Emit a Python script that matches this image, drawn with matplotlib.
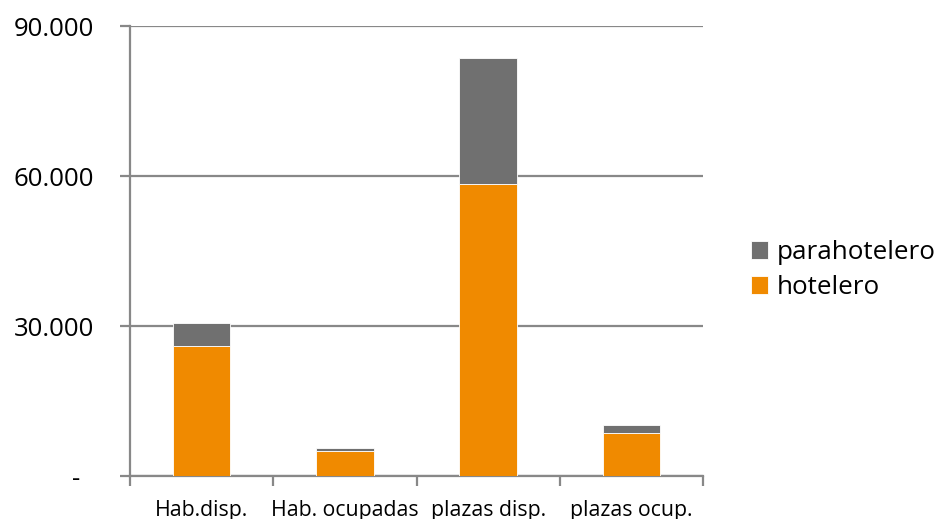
import matplotlib.pyplot as plt
from matplotlib.ticker import FuncFormatter
import numpy as np

categories = ['Hab.disp.', 'Hab. ocupadas', 'plazas disp.', 'plazas ocup.']
hotelero = [26100, 5000, 58400, 8600]
parahotelero = [4600, 600, 25300, 1600]
y_ticks = [0, 30000, 60000, 90000]

ORANGE = '#f08a00'
GREY = '#707070'
AXIS = '#888888'

plt.rcParams['font.family'] = ['Open Sans', 'DejaVu Sans']


def fmt_thousands(v, pos):
    if v == 0:
        return '-  '  # accounting style dash sits left of the digits
    return f'{int(v):,}'.replace(',', '.')


def main():
    fig = plt.figure(figsize=(9.4, 5.19), dpi=100)
    ax = fig.add_axes([130 / 940, 1 - 476 / 519, 573 / 940, 450 / 519])

    x = np.arange(len(categories))
    ax.bar(x, hotelero, width=0.4, color=ORANGE, edgecolor='white',
           linewidth=0.6, label='hotelero', zorder=3)
    ax.bar(x, parahotelero, width=0.4, bottom=hotelero, color=GREY,
           edgecolor='white', linewidth=0.6, label='parahotelero', zorder=3)

    ax.set_xlim(-0.5, len(categories) - 0.5)
    ax.set_ylim(0, 90000)
    ax.set_yticks(y_ticks)
    ax.yaxis.set_major_formatter(FuncFormatter(fmt_thousands))
    ax.yaxis.grid(True, color=AXIS, linewidth=1.6, zorder=0)

    # category boundaries get the ticks, centers get the labels
    ax.set_xticks(np.arange(len(categories) + 1) - 0.5)
    ax.set_xticklabels([])
    ax.set_xticks(x, minor=True)
    ax.set_xticklabels(categories, minor=True, fontsize=15.3)
    ax.tick_params(axis='x', which='major', length=7, width=1.6, color=AXIS)
    ax.tick_params(axis='x', which='minor', length=0, pad=17)
    ax.tick_params(axis='y', length=7, width=1.6, color=AXIS,
                   labelsize=18.5, pad=19)

    for side in ['top', 'right']:
        ax.spines[side].set_visible(False)
    for side in ['left', 'bottom']:
        ax.spines[side].set_color(AXIS)
        ax.spines[side].set_linewidth(1.6)

    handles, labels = ax.get_legend_handles_labels()
    fig.legend(handles[::-1], labels[::-1], loc='center left',
               bbox_to_anchor=(751 / 940, 1 - 270 / 519), frameon=False,
               fontsize=18.7, borderpad=0, borderaxespad=0,
               handlelength=0.66, handleheight=0.66,
               handletextpad=0.32, labelspacing=0.38)

    fig.savefig('out.png', dpi=100)


if __name__ == '__main__':
    main()
